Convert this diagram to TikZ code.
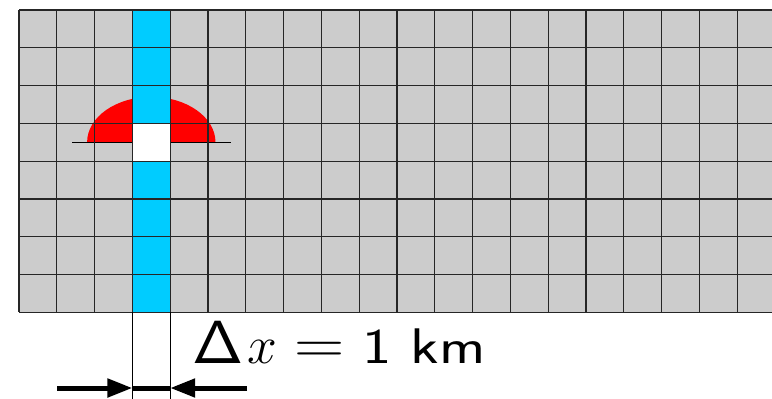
\documentclass[tikz,border=0pt]{standalone}
\usepackage{graphicx}
\usetikzlibrary{arrows.meta}
\definecolor{cellgray}{HTML}{CCCCCC}
\definecolor{colblue}{HTML}{00CCFF}
\definecolor{halfred}{HTML}{FF0000}
\begin{document}
\begin{tikzpicture}[x=1pt,y=-1pt,
  gridline/.style={draw=black!85,line width=1.1pt},
  thinline/.style={draw=black,line width=0.9pt},
  dimarrow/.style={line width=5pt,-{Triangle[length=25pt,width=18pt]}},
  dimline/.style={line width=5pt},
  labpart/.style={anchor=base west,inner sep=0pt,font=\Huge}]
\useasboundingbox (0,0) rectangle (772,399);
\clip (0,0) rectangle (772,399);
\def\cs{37.8}
% gray cells
\fill[cellgray] (19,10) rectangle (800,312.4);
% red half ellipse
\fill[halfred] (87.1,142.3) arc[start angle=180,end angle=0,x radius=64.2,y radius=-45.4] -- cycle;
% horizontal line
\coordinate (hl) at (72,142.3);
\coordinate (hr) at (230.5,142.3);
\draw[thinline] (hl) -- (hr);
% blue column
\fill[colblue] (132.4,10) rectangle (170.2,312.4);
% white cell
\fill[white] (132.4,123.4) rectangle (170.2,161.2);
% grid lines
\foreach \i in {0,...,21} {
  \draw[gridline] ({19+\i*\cs},10) -- ({19+\i*\cs},312.4);
}
\foreach \j in {0,...,8} {
  \draw[gridline] (19,{10+\j*\cs}) -- (800,{10+\j*\cs});
}
% extension lines
\coordinate (e1t) at (132.4,312.4);
\coordinate (e1b) at (132.4,399);
\coordinate (e2t) at (170.2,312.4);
\coordinate (e2b) at (170.2,399);
\draw[thinline] (e1t) -- (e1b);
\draw[thinline] (e2t) -- (e2b);
% dimension arrows
\coordinate (al) at (57,388);
\coordinate (at1) at (132.4,388);
\coordinate (ar) at (247,388);
\coordinate (at2) at (170.2,388);
\draw[dimline] (at1) -- (at2);
\draw[dimarrow] (al) -- (at1);
\draw[dimarrow] (ar) -- (at2);
% label
\node[labpart] (labd) at (192,363) {\scalebox{2.62}[2.45]{$\mathsf{\Delta}$}};
\node[labpart] (labx) at (247,363) {\scalebox{2.15}{$x$}};
\node[labpart] (labeq) at (294,363) {\scalebox{2.8}[2.4]{$=$}};
\node[labpart] (labkm) at (362,363) {\scalebox{2.5}[2.01]{\sffamily 1 km}};
\end{tikzpicture}
\end{document}
